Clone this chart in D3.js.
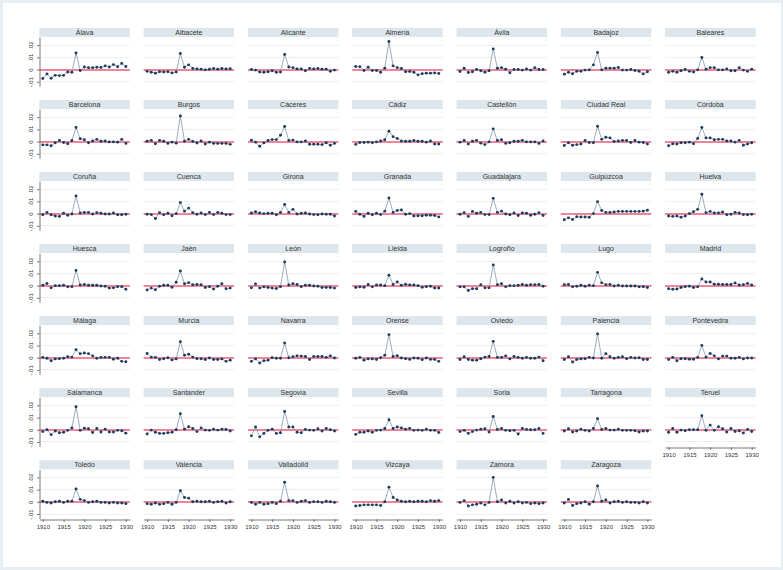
<!DOCTYPE html>
<html><head><meta charset="utf-8">
<script src="https://cdn.jsdelivr.net/npm/d3@7"></script>
<style>
html,body{margin:0;padding:0;background:#e9eef2;}
svg{display:block;font-family:"Liberation Sans",Arial,sans-serif;}
</style>
</head><body>
<svg id="chart" width="783" height="570"></svg>
<script>
// ---------------- data ----------------
const years = [1910,1911,1912,1913,1914,1915,1916,1917,1918,1919,1920,1921,1922,1923,1924,1925,1926,1927,1928,1929,1930];
const xTickValues = [1910,1915,1920,1925,1930];
// values in thousandths (0.001)
const yTickValues = [-10,0,10,20];
const yTickLabels = ["-.01","0",".01",".02"];

const provinces = ["Álava","Albacete","Alicante","Almería","Ávila","Badajoz","Baleares",
"Barcelona","Burgos","Cáceres","Cádiz","Castellón","Ciudad Real","Córdoba",
"Coruña","Cuenca","Girona","Granada","Guadalajara","Guipúzcoa","Huelva",
"Huesca","Jaén","León","Lleida","Logroño","Lugo","Madrid",
"Málaga","Murcia","Navarra","Orense","Oviedo","Palencia","Pontevedra",
"Salamanca","Santander","Segovia","Sevilla","Soria","Tarragona","Teruel",
"Toledo","Valencia","Valladolid","Vizcaya","Zamora","Zaragoza"];

const alava      = [-7.4,-3.6,-7.2,-4.8,-5.0,-4.8,-2.0,-2.2,13.5,-0.8,2.0,1.4,1.4,1.8,1.6,3.0,2.0,4.0,2.2,5.0,2.5];
const albacete   = [-1.5,-2.2,-3.0,-1.8,-2.0,-1.8,-2.8,-2.0,13.1,1.8,3.8,0.8,0.5,0.3,-0.3,0.2,0.8,0.3,0.8,0.5,0.6];
const alicante   = [0,-0.5,-2.0,-2.2,-1.8,-1.0,-2.3,-2.0,12.3,2.0,1.5,0.5,0.5,-1.0,0.8,0.5,0.8,0.3,0.3,-1.5,-0.5];
const almeria    = [2.5,2.2,-0.8,1.9,-0.8,-0.8,-2.2,1.1,23,3.0,1.5,0.8,-1.9,-1.6,-2.2,-4.4,-3.4,-3.0,-3.0,-2.8,-3.3];
const avila      = [-1.7,1.0,-2.5,-1.8,0,-1.0,-2.2,-1.0,16.9,1.0,1.5,0.3,-2.7,0,0,-0.5,0.5,-0.5,1.5,0,0];
const badajoz    = [-3.8,-2.2,-3.5,-1.5,-1.5,-0.5,-0.3,3.8,13.9,-0.3,1.1,1.1,1.1,1.6,-0.5,-0.5,0,-0.8,-1.4,-3.6,-1.9];
const baleares   = [-2.2,-1.5,-2.3,-1.0,0,-1.5,-2.0,-0.3,9.8,0.3,1.5,1.5,-0.3,-0.3,0.5,-1.0,-1.0,1.5,-0.5,-1.5,0.3];
const barcelona  = [-2.7,-2.7,-3.5,-1.0,0.8,-0.8,-1.8,0.8,11.5,2.3,1.5,-1.0,0.5,1.8,0.3,0.5,-0.3,-0.3,-0.5,1.8,-1.5];
const burgos     = [0.3,1.0,-1.8,0.8,0.3,-1.5,-0.5,-1.3,21,0.3,1.8,0,-1.2,0.5,-2.0,-0.5,-1.5,-1.5,-1.5,-1.5,-2.3];
const caceres    = [1.1,-0.5,-3.8,-1.1,0.8,1.6,1.6,5.2,12.3,0.9,1.2,-0.3,-0.3,0.5,-2.2,-2.2,-2.2,-2.5,-1.0,-3.0,-1.5];
const cadiz      = [-2.3,-0.8,-0.8,-0.5,-1.0,-0.3,0.5,1.5,8.5,4.0,2.5,0.5,0.3,0.3,0.8,0.3,0.3,-0.5,0.5,-2.0,-2.0];
const castellon  = [-0.5,0.8,-2.0,0.3,1.0,-1.3,-2.5,-0.3,10.4,0.8,1.5,-1.5,-1.0,0.3,0.3,1.0,-0.3,-0.3,-0.3,-1.5,0.5];
const ciudadReal = [-3.2,-1.0,-3.0,-2.5,-2.0,0.8,-0.8,-1.0,12.6,1.8,3.5,3.0,0,0.5,0.8,0.8,-0.8,0.8,-0.5,-0.8,-2.0];
const cordoba    = [-3.5,-1.8,-2.0,-1.0,-1.0,-0.5,-1.8,2.5,11.5,3.0,3.0,1.5,1.8,1.8,0.5,0.5,-0.5,1.0,-3.0,-2.0,-1.0];
const coruna     = [-1.0,1.0,-1.0,-2.0,-2.3,0.3,-1.3,-0.3,14.5,0.5,1.0,1.0,-0.3,0.8,0.3,-0.3,-0.3,0.5,-1.0,-1.0,-0.5];
const cuenca     = [-0.5,-0.8,-4.0,0.8,-1.0,0.3,-1.8,0,9.0,2.0,4.5,0.8,-0.5,0.5,-0.8,1.0,-0.8,1.0,0.3,-0.8,-0.8];
const girona     = [0.5,1.5,0.5,0,0.3,0.3,-1.0,1.0,7.4,1.0,3.5,-0.3,0.3,0.5,-0.3,-0.8,-1.0,-0.3,-0.5,-0.5,-2.0];
const granada    = [1.8,-0.5,-2.3,0.3,-1.0,0.3,-0.8,2.0,12.8,1.0,2.5,3.0,-0.5,0,-2.0,-1.8,-1.8,-1.3,-1.3,-1.5,-2.7];
const guadalajara= [-0.5,0.8,-2.3,1.8,0.3,1.0,-0.8,-0.8,12.5,1.0,2.0,-0.3,-1.0,0.5,-1.5,0.5,0.3,-1.3,-0.5,0.8,-1.5];
const guipuzcoa  = [-5.0,-3.5,-4.8,-2.5,-2.8,-2.8,-3.0,0,9.8,2.5,1.0,1.0,1.3,1.8,1.8,1.8,1.8,1.8,1.8,2.0,2.8];
const huelva     = [-2.0,-2.3,-2.0,-3.0,-2.0,0,1.5,3.5,15.8,0.8,1.8,0.5,0.5,1.3,-1.0,-0.5,1.0,0.5,-0.8,-1.0,-0.5];
const huesca     = [0.3,1.8,-1.8,0,0,0.3,-1.0,-0.8,12.5,0.5,1.0,0.3,0.3,0.3,-0.3,-0.5,-2.0,-1.8,-0.8,-0.8,-3.0];
const jaen       = [-3.5,-2.0,-3.3,-0.5,0.3,0.3,-1.3,2.8,12,1.5,2.5,0.8,1.0,0.8,-1.5,-0.8,-2.8,-0.5,1.5,-2.5,-2.0];
const leon       = [-1.8,1.3,-2.0,-1.0,-1.5,-2.0,-2.3,-0.8,19.4,0.5,1.5,1.0,-0.8,0.3,0.3,-0.3,-0.5,-1.5,-1.5,-1.5,-2.0];
const lleida     = [-1.5,-1.0,-1.3,1.0,-1.0,0.5,0.5,0,8.5,1.0,3.0,0.3,1.2,0.6,0.6,0,-1.4,-0.8,-0.5,-1.9,-1.9];
const logrono    = [-1.0,-1.0,-4.0,-2.5,-2.5,0.8,-1.8,-1.8,17,0.8,1.5,-1.0,0,0,0.3,1.0,0.3,0.8,0.8,1.0,-0.5];
const lugo       = [0.8,1.0,-1.0,-0.5,0.3,-0.5,0.3,0,10.9,2.3,0.8,1.0,-0.3,0.3,-0.3,-0.3,-0.3,-0.3,-1.0,-0.8,-1.5];
const madrid     = [-2.5,-3.0,-2.7,-1.5,-0.8,-0.5,-1.5,-1.0,5.5,3.0,3.0,1.1,1.1,1.0,1.0,1.0,2.2,0.5,0.8,1.8,0.5];
const malaga     = [0.3,-0.5,-2.5,-1.0,-0.8,-0.5,0.8,0.5,6.6,3.3,3.8,3.3,1.5,-0.5,0.3,0.3,0.3,-1.3,-0.5,-3.0,-3.3];
const murcia     = [3.5,0.5,0.3,-1.5,-0.8,0,-1.8,-1.0,13.1,2.0,2.8,0.5,-0.8,-0.8,-1.5,-0.3,-1.5,-1.5,-1.0,-3.0,-2.0];
const navarra    = [-3.0,-1.0,-4.3,-2.5,-2.0,0,-0.5,-0.5,12,0,0.8,1.5,1.3,1.0,-1.5,1.0,1.0,1.0,0.3,1.5,-0.3];
const orense     = [-0.5,0.3,-2.0,-1.0,-1.0,-1.5,0,2.0,18.9,1.0,1.6,-0.3,-0.8,-1.4,-0.3,-0.5,-1.6,-0.3,-1.4,-1.4,-3.0];
const oviedo     = [-1.5,0.8,-1.5,-2.0,-2.0,-0.8,0.5,1.0,13.4,0.3,0.3,1.5,-1.0,1.0,0.3,-0.5,0.3,-0.5,-0.5,0.5,-2.5];
const palencia   = [-1.5,0.8,-3.5,-1.5,-1.0,-0.8,0.3,-0.3,19.5,-0.5,3.3,0.8,-0.5,0.3,0.8,-0.8,0.3,-0.3,0,-1.5,-1.5];
const pontevedra = [-1.5,0.3,-2.5,-0.8,-0.8,-1.3,-1.3,0.3,10.1,0.5,3.5,1.5,-1.0,1.3,1.3,-0.5,-0.5,0.3,-1.0,-0.3,-0.3];
const salamanca  = [-1.5,0,-4.0,-1.0,-2.5,-2.0,-0.5,1.5,18.9,-0.5,1.3,0.8,-2.3,1.0,-1.8,0.5,-1.8,-1.8,-0.5,-0.8,-2.8];
const santander  = [-3.5,-0.3,-2.0,-3.0,-3.0,-2.5,-2.0,0,13.1,0.5,2.5,1.0,-1.5,1.5,-0.3,-0.5,0.5,-0.3,0.5,0.3,-1.0];
const segovia    = [-5.0,2.3,-5.8,-3.0,-0.5,0.5,-3.0,-2.5,15,2.3,2.3,-2.0,-2.5,0.3,-0.3,-0.5,0.8,-1.0,1.0,0,-1.0];
const sevilla    = [-3.8,-2.0,-2.0,-1.0,-2.0,-0.5,-0.3,1.0,8.2,1.0,2.2,1.4,0.5,1.1,-0.5,-0.3,-0.5,0.5,-0.5,-0.5,-2.2];
const soria      = [-1.5,-0.5,-3.0,-1.5,-0.3,0.5,0.8,-1.8,10.9,0.3,1.0,-0.5,-0.8,-0.5,-3.5,1.0,0.3,0,0,1.0,-3.0];
const tarragona  = [-1.0,0.8,-1.8,-1.0,0.5,-0.5,-1.0,1.0,9.0,0.3,1.0,-0.3,-0.3,0.5,-0.5,-0.5,-0.5,-0.8,-1.8,-1.0,-1.0];
const teruel     = [-2.0,1.0,-2.0,-0.3,-0.8,0,0,0,11.5,-0.5,3.8,-0.5,2.5,0.8,-1.9,1.0,-1.4,-0.8,-2.7,0.3,-1.4];
const toledo     = [0.5,-0.5,-1.0,0,0.5,-0.5,0.5,0.5,10.5,2.0,1.0,-0.5,0,0.5,-0.5,-0.5,-1.0,-0.5,-1.0,-1.0,-1.5];
const valencia   = [-1.5,-2.0,-1.0,-2.0,-1.5,-0.5,-2.0,-0.5,9.0,3.5,3.0,0,0.5,0,0,0.5,-0.5,0,0.5,-1.0,0];
const valladolid = [-0.5,-2.0,-0.5,-2.0,-1.5,-0.5,-1.5,0.5,16,1.0,1.0,-0.5,0.5,1.0,-0.5,0,0,-0.5,0.5,0,-0.5];
const vizcaya    = [-3.5,-3.0,-2.5,-2.5,-2.5,-2.5,-3.0,0,12,3.5,1.5,0.5,0,0.5,0,0.5,0.5,0,1.0,0.5,1.0];
const zamora     = [-0.5,1.0,-3.5,-2.5,-2.0,-1.0,-2.5,-0.5,20,0,1.5,-1.0,0.5,-1.0,0,-1.0,-0.5,-1.5,-1.0,-1.5,-1.0];
const zaragoza   = [-1.0,2.0,-3.0,-1.5,-1.0,0,-2.0,0,13,0.5,1.5,-1.0,0,0.5,-0.5,0,-0.5,-0.5,-1.0,0,-1.0];

const seriesValues = [alava,albacete,alicante,almeria,avila,badajoz,baleares,
barcelona,burgos,caceres,cadiz,castellon,ciudadReal,cordoba,
coruna,cuenca,girona,granada,guadalajara,guipuzcoa,huelva,
huesca,jaen,leon,lleida,logrono,lugo,madrid,
malaga,murcia,navarra,orense,oviedo,palencia,pontevedra,
salamanca,santander,segovia,sevilla,soria,tarragona,teruel,
toledo,valencia,valladolid,vizcaya,zamora,zaragoza];

// ---------------- layout ----------------
const W = 783, H = 570;
const nCols = 7;
const colX0 = 39.3, colStep = 104.3, panelW = 90.5;
const rowZero0 = 69.5, rowStep = 72.05;
const headerOff = 41.6, headerH = 9;
const plotTopOff = 32.3, plotBotOff = 16.7;
const pxPerUnit = 1.22; // px per 0.001
const xPadL = 3.5, xPadR = 3.9;
const snap = v => Math.round(v - 0.5) + 0.5;

const svg = d3.select("#chart");
svg.append("rect").attr("x",3).attr("y",3).attr("width",W-5).attr("height",H-6).attr("fill","#ffffff");

provinces.forEach((name, i) => {
  const r = Math.floor(i / nCols), c = i % nCols;
  const x0 = colX0 + c * colStep;
  const zero = rowZero0 + r * rowStep;
  const plotTop = zero - plotTopOff, plotBot = zero + plotBotOff;

  const y = d3.scaleLinear()
    .domain([-plotBotOff / pxPerUnit, plotTopOff / pxPerUnit])
    .range([plotBot, plotTop]);
  const yrPx = (panelW - xPadL - xPadR) / (years[years.length-1] - years[0]);
  const x = d3.scaleLinear()
    .domain([years[0] - xPadL / yrPx, years[years.length-1] + xPadR / yrPx])
    .range([x0, x0 + panelW]);

  const g = svg.append("g");

  // header strip
  g.append("rect").attr("x", x0).attr("y", zero - headerOff)
    .attr("width", panelW).attr("height", headerH).attr("fill", "#dce6ec");
  g.append("text").attr("x", x0 + panelW / 2).attr("y", zero - headerOff + 6.9)
    .attr("text-anchor", "middle").attr("font-size", 7).attr("fill", "#333")
    .text(name);

  // gridlines
  g.selectAll("line.grid").data(yTickValues.filter(v => v !== 0)).join("line")
    .attr("class","grid")
    .attr("x1", x0).attr("x2", x0 + panelW)
    .attr("y1", d => snap(y(d))).attr("y2", d => snap(y(d)))
    .attr("stroke", "#edf0f3").attr("stroke-width", 1);

  // zero reference line (soft, ~2px)
  g.append("line").attr("x1", x0).attr("x2", x0 + panelW)
    .attr("y1", Math.round(y(0))).attr("y2", Math.round(y(0)))
    .attr("stroke", "#ec5b74").attr("stroke-width", 1.6);

  const vals = seriesValues[i];
  const pts = years.map((yr, k) => [yr, vals[k]]);

  g.append("path").datum(pts)
    .attr("fill", "none").attr("stroke", "#8497ab").attr("stroke-width", 0.8)
    .attr("d", d3.line().x(d => x(d[0])).y(d => y(d[1])));

  g.selectAll("circle").data(pts).join("circle")
    .attr("cx", d => x(d[0])).attr("cy", d => y(d[1]))
    .attr("r", 1.45).attr("fill", "#1d3b5c");

  // y axis on first column
  if (c === 0) {
    const ax = g.append("g").attr("transform", `translate(${snap(x0)},0)`)
      .call(d3.axisLeft(y).tickValues(yTickValues)
        .tickFormat((d, k) => yTickLabels[k]).tickSize(2.5).tickSizeOuter(0));
    ax.select(".domain").attr("stroke", "#555").attr("stroke-width", 0.8);
    ax.selectAll(".tick line").attr("stroke", "#555").attr("stroke-width", 0.8);
    ax.selectAll(".tick text")
      .attr("transform", "rotate(-90)")
      .attr("x", 0).attr("y", -8.8).attr("dy", "0.35em")
      .attr("text-anchor", "middle")
      .attr("font-size", 6).attr("fill", "#333")
      .attr("font-family", "Liberation Sans, Arial, sans-serif");
  }

  // x axis on the bottom panel of each column
  if (i + nCols >= provinces.length) {
    const ax = g.append("g").attr("transform", `translate(0,${snap(plotBot + 0.6)})`)
      .call(d3.axisBottom(x).tickValues(xTickValues)
        .tickFormat(d3.format("d")).tickSize(2.5).tickSizeOuter(0));
    ax.select(".domain").attr("stroke", "#555").attr("stroke-width", 0.8);
    ax.selectAll(".tick line").attr("stroke", "#555").attr("stroke-width", 0.8);
    ax.selectAll(".tick text")
      .attr("y", 5.2).attr("font-size", 6).attr("fill", "#333")
      .attr("font-family", "Liberation Sans, Arial, sans-serif");
  }
});
</script>
</body></html>
